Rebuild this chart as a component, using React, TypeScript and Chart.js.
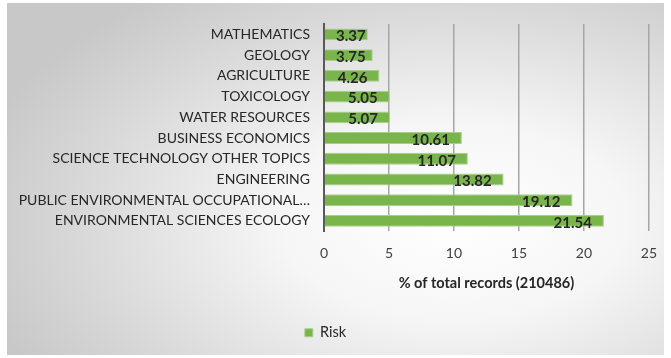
import React, { useEffect, useRef } from "react";
import { Chart, registerables } from "chart.js";

Chart.register(...registerables);

const categories = [
  "MATHEMATICS",
  "GEOLOGY",
  "AGRICULTURE",
  "TOXICOLOGY",
  "WATER RESOURCES",
  "BUSINESS ECONOMICS",
  "SCIENCE TECHNOLOGY OTHER TOPICS",
  "ENGINEERING",
  "PUBLIC ENVIRONMENTAL OCCUPATIONAL…",
  "ENVIRONMENTAL SCIENCES ECOLOGY",
];
const riskValues = [3.37, 3.75, 4.26, 5.05, 5.07, 10.61, 11.07, 13.82, 19.12, 21.54];
const xTicks = [0, 5, 10, 15, 20, 25];

const FONT = "Lato, 'Open Sans', sans-serif";
const BAR_GREEN = "#7ab54c";

// Writes each bar's value just inside its right end, kept clear of the axis.
const valueLabels = {
  id: "valueLabels",
  afterDatasetsDraw(chart: any) {
    const { ctx } = chart;
    const meta = chart.getDatasetMeta(0);
    const data = chart.data.datasets[0].data as number[];
    const axisX = chart.scales.x.getPixelForValue(0);
    ctx.save();
    ctx.font = `bold 15px ${FONT}`;
    ctx.fillStyle = "#262626";
    ctx.textAlign = "left";
    ctx.textBaseline = "middle";
    meta.data.forEach((bar: any, i: number) => {
      const text = data[i].toFixed(2);
      const w = ctx.measureText(text).width;
      const left = Math.max(bar.x - 12 - w, axisX + 12);
      ctx.fillText(text, left, bar.y + 2);
    });
    ctx.restore();
  },
};

export default function App() {
  const canvasRef = useRef<HTMLCanvasElement | null>(null);

  useEffect(() => {
    document.body.style.margin = "0";
    const canvas = canvasRef.current;
    if (!canvas) return;
    const chart = new Chart(canvas, {
      type: "bar",
      data: {
        labels: categories,
        datasets: [
          {
            label: "Risk",
            data: riskValues,
            backgroundColor: BAR_GREEN,
            borderColor: "#a8cf8a",
            borderWidth: 1,
            barPercentage: 0.6,
            categoryPercentage: 0.95,
          },
        ],
      },
      options: {
        indexAxis: "y",
        responsive: false,
        animation: false,
        layout: { padding: { top: 24, right: 20, bottom: 8, left: 0 } },
        scales: {
          x: {
            min: 0,
            max: 25,
            afterBuildTicks: (scale: any) => {
              scale.ticks = xTicks.map((v) => ({ value: v }));
            },
            grid: { color: "#a6a6a6", lineWidth: 1.5, drawTicks: false },
            border: { display: false },
            ticks: {
              padding: 14,
              color: "#404040",
              font: { family: FONT, size: 14 },
            },
            title: {
              display: true,
              text: "% of total records (210486)",
              color: "#262626",
              font: { family: FONT, size: 14.5, weight: "bold" },
              padding: { top: -1, bottom: 23 },
            },
          },
          y: {
            afterFit: (scale: any) => {
              scale.width = 324;
            },
            grid: { display: false, drawTicks: false },
            border: { display: true, color: "#595959", width: 2 },
            ticks: {
              autoSkip: false,
              padding: 14,
              color: "#262626",
              font: { family: FONT, size: 14 },
            },
          },
        },
        plugins: {
          legend: {
            position: "bottom",
            labels: {
              color: "#262626",
              font: { family: FONT, size: 14.5 },
              boxWidth: 8,
              boxHeight: 8,
              padding: 10,
            },
          },
          tooltip: { enabled: false },
        },
      },
      plugins: [valueLabels],
    });
    return () => chart.destroy();
  }, []);

  return (
    <div style={{ position: "relative", width: 671, height: 358, background: "#fff" }}>
      <div
        style={{
          position: "absolute",
          left: 7,
          top: 3,
          width: 657,
          height: 352,
          background:
            "radial-gradient(ellipse 75% 80% at 68% 62%, #ffffff 0%, #f6f6f6 35%, #d9d9d9 75%, #c8c8c8 100%)",
        }}
      />
      <canvas
        ref={canvasRef}
        width={671}
        height={358}
        style={{ position: "absolute", left: 0, top: 0 }}
      />
    </div>
  );
}
